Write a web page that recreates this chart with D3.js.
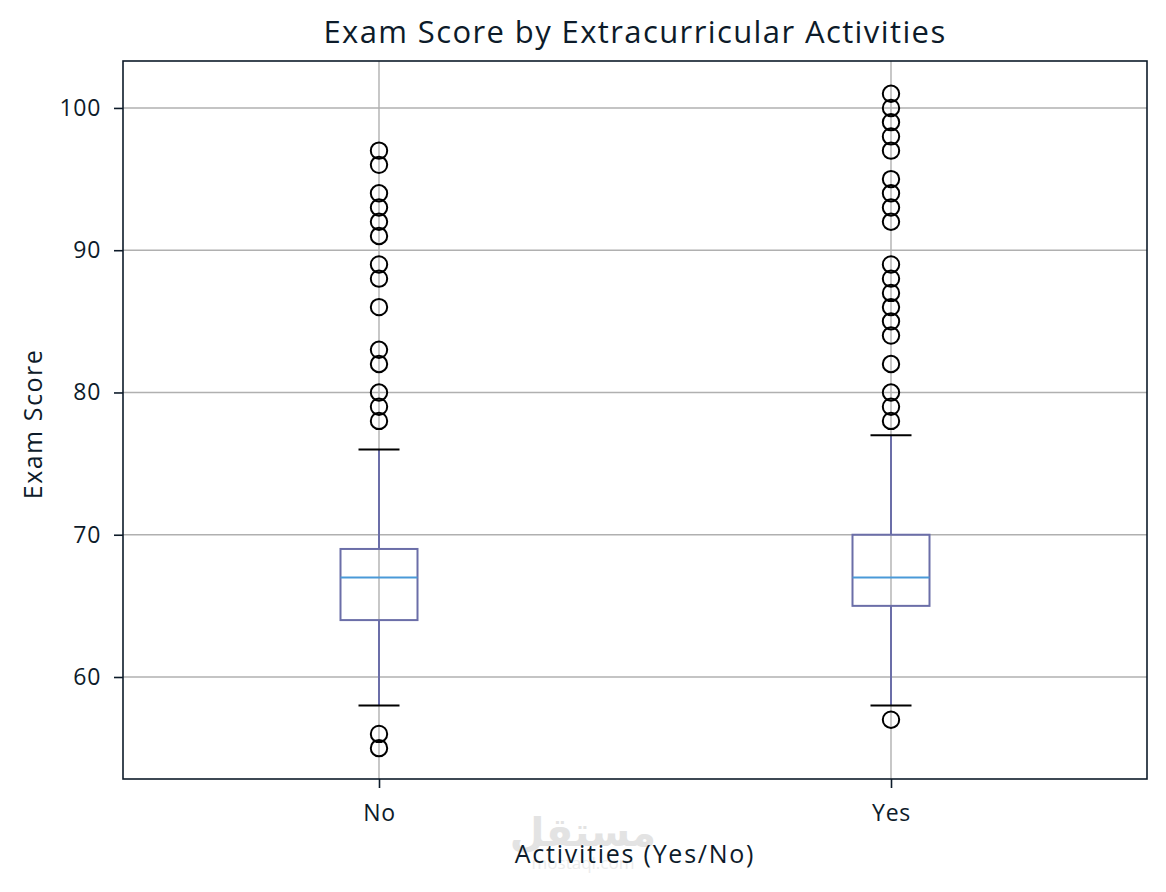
<!DOCTYPE html>
<html>
<head>
<meta charset="utf-8">
<script src="https://cdn.jsdelivr.net/npm/d3@7"></script>
<style>
  body { margin: 0; background: #fff; }
  text { font-family: "Open Sans", "DejaVu Sans", sans-serif; fill: #0d1b2a; }
</style>
</head>
<body>
<script>
const groups = ["No", "Yes"];
const q1 = [64, 65];
const medians = [67, 67];
const q3 = [69, 70];
const whiskerLow = [58, 58];
const whiskerHigh = [76, 77];
const outliersNo = [97, 96, 94, 93, 92, 91, 89, 88, 86, 83, 82, 80, 79, 78, 56, 55];
const outliersYes = [101, 100, 99, 98, 97, 95, 94, 93, 92, 89, 88, 87, 86, 85, 84, 82, 80, 79, 78, 57];
const yTicks = [60, 70, 80, 90, 100];

const margin = { top: 61, right: 19, bottom: 113, left: 123 },
    width = 1166 - margin.left - margin.right,
    height = 892 - margin.top - margin.bottom;

const svg = d3.select('body').append('svg')
    .attr('width', 1166)
    .attr('height', 892);

const g = svg.append('g')
    .attr('transform', `translate(${margin.left}, ${margin.top})`);

const x = d3.scaleLinear().domain([0.5, 2.5]).range([0, width]);
const y = d3.scaleLinear().domain([52.83, 103.3]).range([height, 0]);

const boxes = groups.map((name, i) => ({
    name, pos: i + 1,
    q1: q1[i], median: medians[i], q3: q3[i],
    lo: whiskerLow[i], hi: whiskerHigh[i],
    outliers: i === 0 ? outliersNo : outliersYes
}));

// grid
g.append('g').selectAll('line')
    .data(yTicks).enter().append('line')
      .attr('x1', 0).attr('x2', width)
      .attr('y1', d => y(d)).attr('y2', d => y(d))
      .attr('stroke', '#b0b0b0').attr('stroke-width', 1.4);

g.append('g').selectAll('line')
    .data(boxes).enter().append('line')
      .attr('x1', d => x(d.pos)).attr('x2', d => x(d.pos))
      .attr('y1', 0).attr('y2', height)
      .attr('stroke', '#b0b0b0').attr('stroke-width', 1.4);

// axes
const yAxis = d3.axisLeft(y).tickValues(yTicks).tickSize(9).tickPadding(13);
const xAxis = d3.axisBottom(x).tickValues([1, 2]).tickFormat(d => groups[d - 1]).tickSize(9).tickPadding(17);

const ya = g.append('g').call(yAxis);
const xa = g.append('g').attr('transform', `translate(0, ${height})`).call(xAxis);
[ya, xa].forEach(a => {
    a.select('.domain').remove();
    a.selectAll('line').attr('stroke', '#0d1b2a').attr('stroke-width', 1.6);
    a.selectAll('text').style('font-size', '23px').style('letter-spacing', '0.03em').attr('fill', '#0d1b2a');
});

// boxes
const bw = 77, cw = 41;
const bx = g.selectAll('g.box').data(boxes).enter().append('g').attr('class', 'box');

bx.append('line')
    .attr('x1', d => x(d.pos)).attr('x2', d => x(d.pos))
    .attr('y1', d => y(d.q1)).attr('y2', d => y(d.lo))
    .attr('stroke', '#6b6ea8').attr('stroke-width', 2);
bx.append('line')
    .attr('x1', d => x(d.pos)).attr('x2', d => x(d.pos))
    .attr('y1', d => y(d.q3)).attr('y2', d => y(d.hi))
    .attr('stroke', '#6b6ea8').attr('stroke-width', 2);
bx.append('line')
    .attr('x1', d => x(d.pos) - cw / 2).attr('x2', d => x(d.pos) + cw / 2)
    .attr('y1', d => y(d.lo)).attr('y2', d => y(d.lo))
    .attr('stroke', '#000').attr('stroke-width', 2);
bx.append('line')
    .attr('x1', d => x(d.pos) - cw / 2).attr('x2', d => x(d.pos) + cw / 2)
    .attr('y1', d => y(d.hi)).attr('y2', d => y(d.hi))
    .attr('stroke', '#000').attr('stroke-width', 2);
bx.append('rect')
    .attr('x', d => x(d.pos) - bw / 2).attr('width', bw)
    .attr('y', d => y(d.q3)).attr('height', d => y(d.q1) - y(d.q3))
    .attr('fill', 'none').attr('stroke', '#6b6ea8').attr('stroke-width', 2);
bx.append('line')
    .attr('x1', d => x(d.pos) - bw / 2).attr('x2', d => x(d.pos) + bw / 2)
    .attr('y1', d => y(d.median)).attr('y2', d => y(d.median))
    .attr('stroke', '#4a9ad8').attr('stroke-width', 2);

bx.selectAll('circle')
    .data(d => d.outliers.map(v => ({ pos: d.pos, v })))
    .enter().append('circle')
      .attr('cx', d => x(d.pos)).attr('cy', d => y(d.v))
      .attr('r', 8.2)
      .attr('fill', 'none').attr('stroke', '#000').attr('stroke-width', 2);

// frame
g.append('rect')
    .attr('width', width).attr('height', height)
    .attr('fill', 'none').attr('stroke', '#0d1b2a').attr('stroke-width', 1.6);

// watermark
svg.append('text')
    .attr('x', 583).attr('y', 846).attr('text-anchor', 'middle')
    .style('font-size', '40px').style('font-weight', 'bold').style('fill', '#e3e3e3')
    .text('مستقل');
svg.append('text')
    .attr('x', 583).attr('y', 869).attr('text-anchor', 'middle')
    .style('font-size', '17px').style('fill', '#ececec')
    .text('mostaql.com');

// labels
svg.append('text')
    .attr('x', margin.left + width / 2).attr('y', 43)
    .attr('text-anchor', 'middle')
    .style('font-size', '31px').style('letter-spacing', '0.045em')
    .text('Exam Score by Extracurricular Activities');

svg.append('text')
    .attr('x', margin.left + width / 2).attr('y', 863)
    .attr('text-anchor', 'middle')
    .style('font-size', '25px').style('letter-spacing', '0.07em')
    .text('Activities (Yes/No)');

svg.append('text')
    .attr('transform', `translate(42, ${margin.top + height / 2 + 4}) rotate(-90)`)
    .attr('text-anchor', 'middle')
    .style('font-size', '25px').style('letter-spacing', '0.06em')
    .text('Exam Score');
</script>
</body>
</html>
